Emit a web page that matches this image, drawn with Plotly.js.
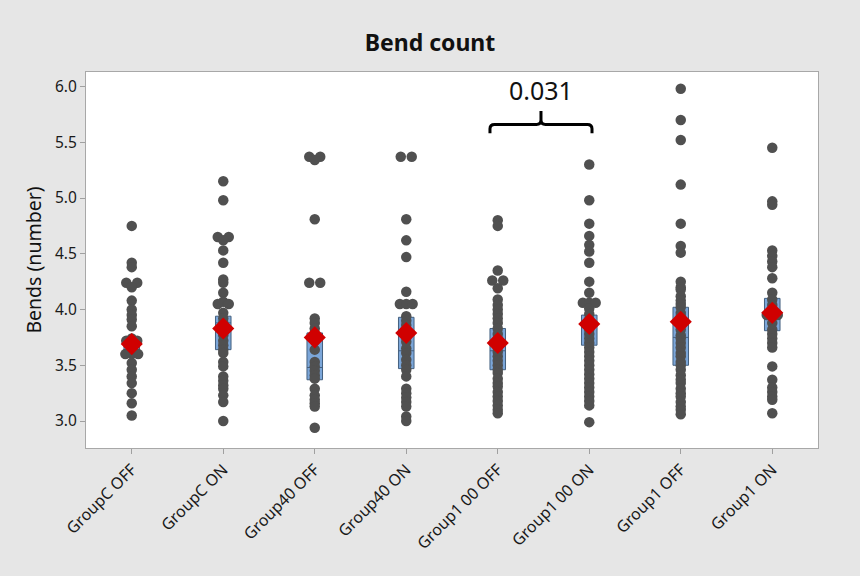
<!DOCTYPE html>
<html>
<head>
<meta charset="utf-8">
<script src="https://cdn.plot.ly/plotly-3.0.1.min.js"></script>
<style>html,body{margin:0;padding:0;background:#e6e6e6;} #chart{width:860px;height:576px;}</style>
</head>
<body>
<div id="chart"></div>
<script>
const categories = ["GroupC OFF","GroupC ON","Group40 OFF","Group40 ON","Group1 00 OFF","Group1 00 ON","Group1 OFF","Group1 ON"];

const groupC_OFF = [4.75,4.42,4.38,4.24,4.24,4.20,4.08,4.00,3.95,3.91,3.85,3.74,3.72,3.72,3.70,3.60,3.60,3.60,3.52,3.46,3.40,3.34,3.25,3.16,3.05];
const groupC_ON = [5.15,4.98,4.65,4.65,4.62,4.53,4.42,4.27,4.24,4.15,4.07,4.05,4.05,3.97,3.92,3.88,3.85,3.80,3.77,3.72,3.68,3.64,3.61,3.53,3.49,3.40,3.36,3.32,3.29,3.23,3.17,3.00];
const group40_OFF = [5.37,5.37,5.34,4.81,4.24,4.24,3.92,3.88,3.83,3.72,3.64,3.53,3.49,3.45,3.41,3.38,3.29,3.23,3.19,3.16,3.13,2.94];
const group40_ON = [5.37,5.37,4.81,4.62,4.47,4.16,4.05,4.05,4.05,3.94,3.90,3.86,3.80,3.75,3.71,3.65,3.61,3.55,3.50,3.46,3.40,3.29,3.25,3.21,3.17,3.13,3.04,3.00];
const group100_OFF = [4.80,4.75,4.35,4.26,4.26,4.19,4.09,4.04,4.00,3.96,3.92,3.88,3.83,3.78,3.74,3.66,3.62,3.58,3.54,3.50,3.46,3.43,3.38,3.34,3.31,3.26,3.22,3.18,3.14,3.10,3.07];
const group100_ON = [5.30,4.98,4.77,4.66,4.58,4.52,4.42,4.25,4.15,4.06,4.06,4.06,4.01,3.96,3.91,3.86,3.82,3.78,3.74,3.70,3.66,3.62,3.58,3.54,3.50,3.46,3.42,3.38,3.34,3.30,3.26,3.22,3.18,3.14,2.99];
const group1_OFF = [5.98,5.70,5.52,5.12,4.77,4.57,4.51,4.25,4.20,4.18,4.12,4.08,4.05,4.02,3.97,3.94,3.90,3.86,3.82,3.77,3.74,3.70,3.66,3.61,3.58,3.53,3.50,3.46,3.41,3.37,3.34,3.29,3.25,3.22,3.17,3.13,3.10,3.06];
const group1_ON = [5.45,4.97,4.94,4.53,4.48,4.43,4.38,4.28,4.15,4.09,4.04,3.95,3.95,3.88,3.82,3.78,3.74,3.70,3.66,3.49,3.37,3.30,3.26,3.22,3.19,3.07];

const groupValues = [groupC_OFF, groupC_ON, group40_OFF, group40_ON, group100_OFF, group100_ON, group1_OFF, group1_ON];

const means   = [3.69,3.83,3.75,3.79,3.70,3.87,3.89,3.97];
const q1s     = [3.60,3.64,3.37,3.47,3.46,3.68,3.50,3.81];
const medians = [3.66,3.88,3.48,3.63,3.63,3.86,3.75,3.95];
const q3s     = [3.72,3.94,3.79,3.93,3.83,3.95,4.02,4.10];

const pValueText = "0.031";
const compareFrom = 4, compareTo = 5;

// Build scatter points with side-by-side offsets for ties
const px = [], py = [];
groupValues.forEach((vals, gi) => {
  const counts = {};
  vals.forEach(v => { const k = v.toFixed(2); counts[k] = (counts[k] || 0) + 1; });
  const seen = {};
  vals.forEach(v => {
    const k = v.toFixed(2);
    const n = counts[k];
    const i = seen[k] || 0; seen[k] = i + 1;
    const step = n === 2 ? 0.12 : 0.07;
    px.push(gi + (i - (n - 1) / 2) * step);
    py.push(v);
  });
});

const xIdx = categories.map((c, i) => i);

const boxTrace = {
  type: 'box', x: xIdx, q1: q1s, median: medians, q3: q3s,
  lowerfence: q1s, upperfence: q3s,
  width: 0.17, whiskerwidth: 0,
  fillcolor: '#7ba6d9', line: {color: '#44607f', width: 1},
  boxpoints: false, hoverinfo: 'skip', showlegend: false
};
const pointTrace = {
  type: 'scatter', mode: 'markers', x: px, y: py,
  marker: {color: '#505050', size: 10.5, line: {width: 0}},
  showlegend: false
};
const meanTrace = {
  type: 'scatter', mode: 'markers', x: xIdx, y: means,
  marker: {color: '#d00000', size: 17, symbol: 'diamond', line: {width: 0}},
  showlegend: false
};

// bracket with rounded corners
const yTop = 5.66, yEnd = 5.58, yPeak = 5.78;
const x0 = compareFrom - 0.085, x1 = compareTo + 0.03, xm = (x0 + x1) / 2;
const rx = 0.05, ry = 0.04;
const bracketPath =
  `M ${x0},${yEnd} L ${x0},${yTop - ry} Q ${x0},${yTop} ${x0 + rx},${yTop} ` +
  `L ${xm - rx},${yTop} Q ${xm},${yTop} ${xm},${yTop + ry} L ${xm},${yPeak} ` +
  `M ${xm},${yTop + ry} Q ${xm},${yTop} ${xm + rx},${yTop} ` +
  `L ${x1 - rx},${yTop} Q ${x1},${yTop} ${x1},${yTop - ry} L ${x1},${yEnd}`;

const layout = {
  width: 860, height: 576,
  paper_bgcolor: '#e6e6e6', plot_bgcolor: '#ffffff',
  margin: {l: 86, r: 42, t: 72, b: 128},
  font: {family: 'Noto Sans, Open Sans, sans-serif', color: '#1a1a1a'},
  title: {text: '<b>Bend count</b>', x: 0.5, xanchor: 'center', y: 0.925, yanchor: 'middle',
          font: {size: 23, color: '#111111', family: 'Noto Sans, Open Sans, sans-serif'}},
  xaxis: {
    range: [-0.5, 7.5], tickmode: 'array', tickvals: xIdx, ticktext: categories,
    tickangle: -45, ticks: 'outside', ticklen: 5, tickcolor: '#a0a0a0',
    showgrid: false, zeroline: false, showline: true, linecolor: '#a8a8a8', mirror: true,
    tickfont: {size: 16, color: '#1a1a1a'}
  },
  yaxis: {
    range: [2.758, 6.13], tickmode: 'array', tickvals: [3.0,3.5,4.0,4.5,5.0,5.5,6.0],
    tickformat: '.1f', ticks: 'outside', ticklen: 5, tickcolor: '#a0a0a0',
    showgrid: false, zeroline: false, showline: true, linecolor: '#a8a8a8', mirror: true,
    tickfont: {size: 15.5, color: '#1a1a1a'},
    title: {text: 'Bends (number)', font: {size: 19.5, color: '#111111'}, standoff: 8}
  },
  shapes: [{type: 'path', path: bracketPath, xref: 'x', yref: 'y',
            line: {color: '#000000', width: 3}}],
  annotations: [{x: xm, y: 5.97, xref: 'x', yref: 'y', text: pValueText, showarrow: false,
                 font: {size: 25, color: '#111111', family: 'Noto Sans, Open Sans, sans-serif'}}]
};

Plotly.newPlot('chart', [boxTrace, pointTrace, meanTrace], layout, {displayModeBar: false, staticPlot: true});
</script>
</body>
</html>
